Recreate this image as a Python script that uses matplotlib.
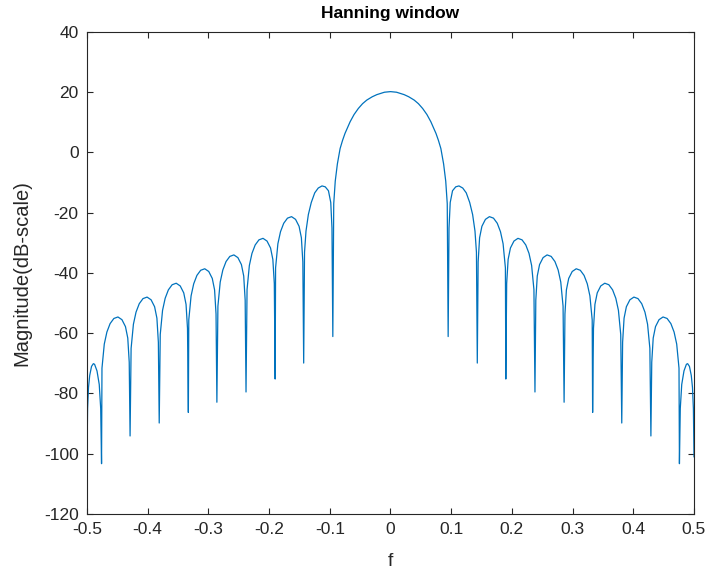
import numpy as np
import matplotlib
matplotlib.use("Agg")
import matplotlib.pyplot as plt

# values (f, magnitude in dB)
# main lobe, f from -0.0935 to 0.0935
f_main = [-0.0935, -0.091, -0.0875, -0.083, -0.079, -0.075, -0.07, -0.0665,
          -0.06, -0.053, -0.046, -0.039, -0.03, -0.0225, -0.01, 0.0,
          0.01, 0.0225, 0.03, 0.039, 0.046, 0.053, 0.06, 0.0665,
          0.07, 0.075, 0.079, 0.083, 0.0875, 0.091, 0.0935]
db_main = [-17.0, -9.5, -3.8, 1.3, 4.0, 6.3, 8.6, 10.2,
           12.6, 14.6, 16.2, 17.4, 18.5, 19.2, 20.0, 20.2,
           20.0, 19.2, 18.5, 17.4, 16.2, 14.6, 12.6, 10.2,
           8.6, 6.3, 4.0, 1.3, -3.8, -9.5, -17.0]

# side lobes right of the main lobe, from the first null to f = 0.5
f_right = [
    0.095,
    0.0964, 0.0984, 0.1022, 0.1075, 0.1128, 0.119, 0.1248, 0.1305, 0.1353, 0.1392, 0.1416,
    0.143,
    0.1444, 0.1468, 0.1506, 0.1564, 0.1630, 0.1697, 0.1759, 0.1812, 0.1855, 0.1893,
    0.190,
    0.1914, 0.1938, 0.1976, 0.2034, 0.2100, 0.2167, 0.2229, 0.2282, 0.2325, 0.2363,
    0.238,
    0.2394, 0.2418, 0.2456, 0.2514, 0.2580, 0.2647, 0.2709, 0.2762, 0.2805, 0.2843,
    0.286,
    0.2874, 0.2898, 0.2936, 0.2994, 0.3060, 0.3127, 0.3189, 0.3242, 0.3285, 0.3323,
    0.333,
    0.3344, 0.3368, 0.3406, 0.3464, 0.3530, 0.3597, 0.3659, 0.3712, 0.3755, 0.3793,
    0.381,
    0.3824, 0.3848, 0.3886, 0.3944, 0.4010, 0.4077, 0.4139, 0.4192, 0.4235, 0.4273,
    0.429,
    0.4304, 0.4328, 0.4366, 0.4424, 0.4490, 0.4557, 0.4619, 0.4672, 0.4715, 0.4753,
    0.476,
    0.4774, 0.4798, 0.4835, 0.4875, 0.4895, 0.4925, 0.4955, 0.4975, 0.499, 0.5]
db_right = [
    -61.1,
    -25.1, -16.6, -12.7, -11.4, -11.1, -11.8, -13.4, -16.6, -20.6, -26.1, -33.1,
    -69.9,
    -36.3, -28.3, -24.5, -22.2, -21.3, -21.8, -23.5, -26.3, -30.3, -38.3,
    -75.2,
    -43.5, -35.5, -31.7, -29.4, -28.5, -29.0, -30.7, -33.5, -37.5, -45.5,
    -79.5,
    -49.0, -41.0, -37.2, -34.9, -34.0, -34.5, -36.2, -39.0, -43.0, -51.0,
    -82.9,
    -53.6, -45.6, -41.8, -39.5, -38.6, -39.1, -40.8, -43.6, -47.6, -55.6,
    -86.3,
    -58.4, -50.4, -46.6, -44.3, -43.4, -43.9, -45.6, -48.4, -52.4, -60.4,
    -89.8,
    -63.0, -55.0, -51.2, -48.9, -48.0, -48.5, -50.2, -53.0, -57.0, -65.0,
    -94.1,
    -69.6, -61.6, -57.8, -55.5, -54.6, -55.1, -56.8, -59.6, -63.6, -71.6,
    -103.3,
    -85.0, -77.0, -72.5, -70.3, -70.1, -71.0, -74.0, -78.0, -85.0, -101.0]

# side lobes left of the main lobe, from f = -0.5 to the first null
f_left = [
    -0.5, -0.499, -0.4975, -0.4955, -0.4925, -0.4895, -0.4875, -0.4835, -0.4798, -0.4774,
    -0.476,
    -0.4753, -0.4715, -0.4672, -0.4619, -0.4557, -0.4490, -0.4424, -0.4366, -0.4328, -0.4304,
    -0.429,
    -0.4273, -0.4235, -0.4192, -0.4139, -0.4077, -0.4010, -0.3944, -0.3886, -0.3848, -0.3824,
    -0.381,
    -0.3793, -0.3755, -0.3712, -0.3659, -0.3597, -0.3530, -0.3464, -0.3406, -0.3368, -0.3344,
    -0.333,
    -0.3323, -0.3285, -0.3242, -0.3189, -0.3127, -0.3060, -0.2994, -0.2936, -0.2898, -0.2874,
    -0.286,
    -0.2843, -0.2805, -0.2762, -0.2709, -0.2647, -0.2580, -0.2514, -0.2456, -0.2418, -0.2394,
    -0.238,
    -0.2363, -0.2325, -0.2282, -0.2229, -0.2167, -0.2100, -0.2034, -0.1976, -0.1938, -0.1914,
    -0.190,
    -0.1893, -0.1855, -0.1812, -0.1759, -0.1697, -0.1630, -0.1564, -0.1506, -0.1468, -0.1444,
    -0.143,
    -0.1416, -0.1392, -0.1353, -0.1305, -0.1248, -0.119, -0.1128, -0.1075, -0.1022, -0.0984, -0.0964,
    -0.095]
db_left = [
    -101.0, -85.0, -78.0, -74.0, -71.0, -70.1, -70.3, -72.5, -77.0, -85.0,
    -103.3,
    -71.6, -63.6, -59.6, -56.8, -55.1, -54.6, -55.5, -57.8, -61.6, -69.6,
    -94.1,
    -65.0, -57.0, -53.0, -50.2, -48.5, -48.0, -48.9, -51.2, -55.0, -63.0,
    -89.8,
    -60.4, -52.4, -48.4, -45.6, -43.9, -43.4, -44.3, -46.6, -50.4, -58.4,
    -86.3,
    -55.6, -47.6, -43.6, -40.8, -39.1, -38.6, -39.5, -41.8, -45.6, -53.6,
    -82.9,
    -51.0, -43.0, -39.0, -36.2, -34.5, -34.0, -34.9, -37.2, -41.0, -49.0,
    -79.5,
    -45.5, -37.5, -33.5, -30.7, -29.0, -28.5, -29.4, -31.7, -35.5, -43.5,
    -75.2,
    -38.3, -30.3, -26.3, -23.5, -21.8, -21.3, -22.2, -24.5, -28.3, -36.3,
    -69.9,
    -33.1, -26.1, -20.6, -16.6, -13.4, -11.8, -11.1, -11.4, -12.7, -16.6, -25.1,
    -61.1]

x_ticks = [-0.5, -0.4, -0.3, -0.2, -0.1, 0, 0.1, 0.2, 0.3, 0.4, 0.5]
x_tick_labels = ["-0.5", "-0.4", "-0.3", "-0.2", "-0.1", "0",
                 "0.1", "0.2", "0.3", "0.4", "0.5"]
y_ticks = [-120, -100, -80, -60, -40, -20, 0, 20, 40]


def main():
    plt.rcParams["font.family"] = ["Liberation Sans", "DejaVu Sans"]
    plt.rcParams["axes.unicode_minus"] = False

    f = np.concatenate([f_left, f_main, f_right])
    db = np.concatenate([db_left, db_main, db_right])

    fig = plt.figure(figsize=(7.06, 5.72), dpi=100)
    ax = fig.add_axes([0.1232, 0.1014, 0.8598, 0.8427])

    ax.plot(f, db, color="#0072BD", linewidth=0.9)

    ax.set_xlim(-0.5, 0.5)
    ax.set_ylim(-120, 40)
    ax.set_xticks(x_ticks)
    ax.set_xticklabels(x_tick_labels)
    ax.set_yticks(y_ticks)
    ax.set_yticklabels([str(t) for t in y_ticks])

    axis_grey = "#262626"
    for spine in ax.spines.values():
        spine.set_color(axis_grey)
        spine.set_linewidth(0.8)
    ax.tick_params(direction="in", length=4, width=0.8, colors=axis_grey,
                   labelsize=12.5, top=True, right=True, pad=6)

    ax.set_title("Hanning window", fontsize=12.5, fontweight="bold",
                 color="black", pad=10)
    ax.set_xlabel("f", fontsize=14, color=axis_grey, labelpad=11)
    ax.set_ylabel("Magnitude(dB-scale)", fontsize=14.5, color=axis_grey,
                  labelpad=9)

    fig.savefig("out.png", dpi=100)


if __name__ == '__main__':
    main()
